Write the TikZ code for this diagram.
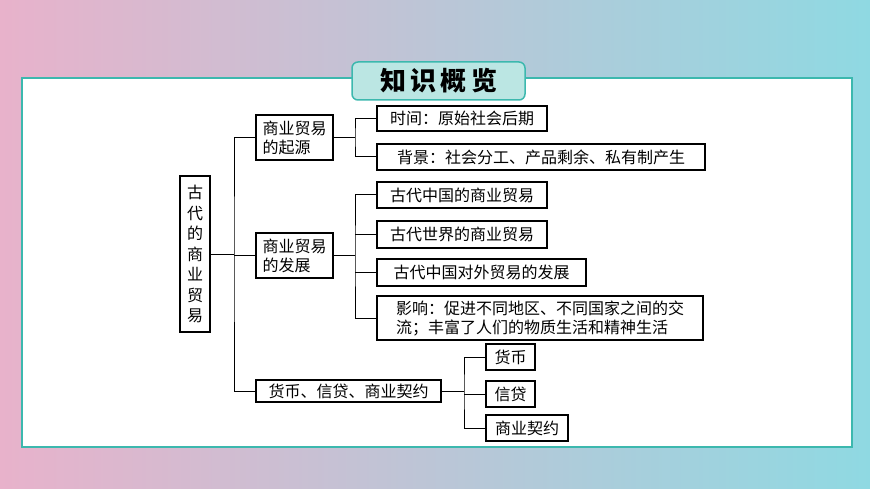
\documentclass[tikz,border=0pt]{standalone}
\usepackage{fontspec}
\setmainfont{Noto Sans CJK SC}
\begin{document}
\begin{tikzpicture}[x=1pt,y=-1pt,
  bx/.style={draw=black,line width=1.2pt,fill=white,inner sep=0pt,font=\fontsize{16}{19}\selectfont,align=left},
  ln/.style={draw=black,line width=1pt}]
\definecolor{teal1}{HTML}{3CB8AE}
\definecolor{pinkbg}{HTML}{E8B2CB}
\definecolor{cyanbg}{HTML}{8FD9E2}
\shade[left color=pinkbg,right color=cyanbg] (0,0) rectangle (870,489);
\useasboundingbox (0,0) rectangle (870,489);
\draw[teal1,line width=2pt,fill=white] (22,78) rectangle (852,447);
\node[draw=teal1,line width=1.5pt,fill=teal1!35,rounded corners=6pt,minimum width=173pt,minimum height=38pt,font=\fontsize{26}{28}\selectfont\bfseries] (title) at (438.5,81) {知\,识\,概\,览};
% root
\node[bx,minimum width=30pt,minimum height=156pt,align=center,font=\fontsize{16}{20.5}\selectfont] (root) at (195,254) {古\\代\\的\\商\\业\\贸\\易};
% level1
\node[bx,minimum width=77pt,minimum height=45pt,align=left] (o) at (294.5,137.5) {商业贸易\\的起源};
\node[bx,minimum width=77pt,minimum height=45pt,align=left] (d) at (294.5,255.5) {商业贸易\\的发展};
\node[bx,minimum width=185pt,minimum height=22pt] (c) at (348.5,391) {货币、信贷、商业契约};
% level2
\node[bx,minimum width=170pt,minimum height=25pt] (o1) at (462,118.5) {时间：原始社会后期};
\node[bx,minimum width=328pt,minimum height=26pt] (o2) at (541,157) {背景：社会分工、产品剩余、私有制产生};
\node[bx,minimum width=170pt,minimum height=26pt] (d1) at (462,195) {古代中国的商业贸易};
\node[bx,minimum width=170pt,minimum height=27pt] (d2) at (462,234.5) {古代世界的商业贸易};
\node[bx,minimum width=209pt,minimum height=27pt] (d3) at (481.5,272.5) {古代中国对外贸易的发展};
\node[bx,minimum width=326pt,minimum height=44pt,inner xsep=3pt] (d4) at (540,318) {影响：促进不同地区、不同国家之间的交\\流；丰富了人们的物质生活和精神生活};
\node[bx,minimum width=49pt,minimum height=26pt] (c1) at (510.5,357) {货币};
\node[bx,minimum width=49pt,minimum height=26pt] (c2) at (510.5,394) {信贷};
\node[bx,minimum width=82pt,minimum height=26pt] (c3) at (527,428) {商业契约};
% connectors
\coordinate (t) at (234,254);
\draw[ln] (root.east) -- (t);
\draw[ln] (o.west) -| (t) |- (c.west);
\draw[ln] (d.west) -- (d.west -| t);
\coordinate (ot) at (355,137.5);
\draw[ln] (o.east) -- (ot);
\draw[ln] (o1.west) -| (ot) |- (o2.west);
\coordinate (dt) at (355,255.5);
\draw[ln] (d.east) -- (dt);
\draw[ln] (d1.west) -| (dt) |- (d4.west);
\draw[ln] (d2.west) -- (d2.west -| dt);
\draw[ln] (d3.west) -- (d3.west -| dt);
\coordinate (ct) at (464,391);
\draw[ln] (c.east) -- (ct);
\draw[ln] (c1.west) -| (ct) |- (c3.west);
\draw[ln] (c2.west) -- (c2.west -| ct);
\end{tikzpicture}
\end{document}
